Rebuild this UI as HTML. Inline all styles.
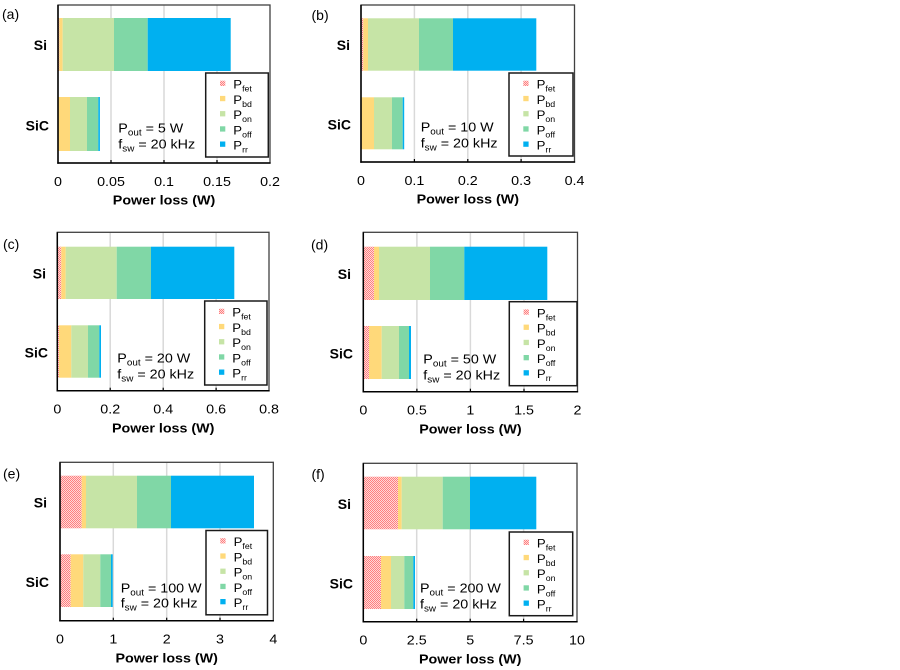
<!DOCTYPE html>
<html>
<head>
<meta charset="utf-8">
<style>
html,body{margin:0;padding:0;background:#fff;}
svg{display:block;}
text{font-family:"Liberation Sans",Arial,sans-serif;fill:#000;}
.tk{font-size:13px;text-anchor:middle;}
.xl{font-size:13px;font-weight:bold;text-anchor:middle;}
.cat{font-size:14px;font-weight:bold;text-anchor:end;}
.pl{font-size:14px;}
.an{font-size:13px;}
.lg{font-size:12px;}
</style>
</head>
<body>
<svg width="900" height="670" viewBox="0 0 900 670" xmlns="http://www.w3.org/2000/svg">
<defs>
<pattern id="h" width="2" height="2" patternUnits="userSpaceOnUse">
<rect x="0" y="0" width="2" height="2" fill="#ffd8d8"/>
<rect x="0" y="0" width="1" height="1" fill="#ff7f7f"/>
<rect x="1" y="1" width="1" height="1" fill="#ff7f7f"/>
</pattern>
</defs>
<rect width="900" height="670" fill="#fff"/>

<!-- ============ PANEL A ============ -->
<g>
<line x1="111" y1="5" x2="111" y2="163" stroke="#d9d9d9" stroke-width="1.5"/>
<line x1="164" y1="5" x2="164" y2="163" stroke="#d9d9d9" stroke-width="1.5"/>
<line x1="217" y1="5" x2="217" y2="163" stroke="#d9d9d9" stroke-width="1.5"/>
<rect x="58" y="18" width="1.3" height="53" fill="url(#h)"/>
<rect x="59.3" y="18" width="3.4" height="53" fill="#ffd97a"/>
<rect x="62.7" y="18" width="51.3" height="53" fill="#c6e4a6"/>
<rect x="114" y="18" width="33.7" height="53" fill="#80d7a6"/>
<rect x="147.7" y="18" width="83" height="53" fill="#00b0f0"/>
<rect x="58" y="97" width="12" height="54" fill="#ffd97a"/>
<rect x="70" y="97" width="17" height="54" fill="#c6e4a6"/>
<rect x="87" y="97" width="11.3" height="54" fill="#80d7a6"/>
<rect x="98.3" y="97" width="1.6" height="54" fill="#00b0f0"/>
<rect x="58" y="5" width="212" height="158" fill="none" stroke="#404040" stroke-width="1.3"/>
<line x1="58" y1="5" x2="58" y2="163.7" stroke="#000" stroke-width="1.5"/>
<line x1="57.3" y1="163" x2="270.6" y2="163" stroke="#000" stroke-width="1.5"/>
<g stroke="#000" stroke-width="1.2"><line x1="111" y1="160" x2="111" y2="163"/><line x1="164" y1="160" x2="164" y2="163"/><line x1="217" y1="160" x2="217" y2="163"/></g>
<text class="cat" x="47" y="50">Si</text>
<text class="cat" x="49" y="130.5">SiC</text>
<text class="pl" x="2" y="19">(a)</text>
<text class="tk" transform="translate(58,186) scale(1.1,1)">0</text>
<text class="tk" transform="translate(111,186) scale(1.1,1)">0.05</text>
<text class="tk" transform="translate(164,186) scale(1.1,1)">0.1</text>
<text class="tk" transform="translate(217,186) scale(1.1,1)">0.15</text>
<text class="tk" transform="translate(270,186) scale(1.1,1)">0.2</text>
<text class="xl" transform="translate(164,204.5) scale(1.1,1)">Power loss (W)</text>
<text class="an" transform="translate(118.3,132.3) scale(1.1,1)">P<tspan font-size="9" dy="3">out</tspan><tspan dy="-3"> = 5 W</tspan></text>
<text class="an" transform="translate(118.3,148.3) scale(1.1,1)">f<tspan font-size="9" dy="3">sw</tspan><tspan dy="-3"> = 20 kHz</tspan></text>
<rect x="205.7" y="73" width="62.6" height="84" fill="#fff" stroke="#1a1a1a" stroke-width="1.5"/>
<rect x="220" y="80.7" width="5.3" height="5.3" fill="url(#h)"/>
<rect x="220" y="95.9" width="5.3" height="5.3" fill="#ffd97a"/>
<rect x="220" y="111.1" width="5.3" height="5.3" fill="#c6e4a6"/>
<rect x="220" y="126.3" width="5.3" height="5.3" fill="#80d7a6"/>
<rect x="220" y="141.5" width="5.3" height="5.3" fill="#00b0f0"/>
<text class="lg" transform="translate(233.3,88.7) scale(1.1,1)">P<tspan font-size="8" dy="3">fet</tspan></text>
<text class="lg" transform="translate(233.3,103.9) scale(1.1,1)">P<tspan font-size="8" dy="3">bd</tspan></text>
<text class="lg" transform="translate(233.3,119.1) scale(1.1,1)">P<tspan font-size="8" dy="3">on</tspan></text>
<text class="lg" transform="translate(233.3,134.3) scale(1.1,1)">P<tspan font-size="8" dy="3">off</tspan></text>
<text class="lg" transform="translate(233.3,149.5) scale(1.1,1)">P<tspan font-size="8" dy="3">rr</tspan></text>
</g>

<!-- ============ PANEL B ============ -->
<g>
<line x1="414.4" y1="5" x2="414.4" y2="162" stroke="#d9d9d9" stroke-width="1.5"/>
<line x1="467.8" y1="5" x2="467.8" y2="162" stroke="#d9d9d9" stroke-width="1.5"/>
<line x1="521.1" y1="5" x2="521.1" y2="162" stroke="#d9d9d9" stroke-width="1.5"/>
<rect x="361" y="18.3" width="2.3" height="52.4" fill="url(#h)"/>
<rect x="363.3" y="18.3" width="4.7" height="52.4" fill="#ffd97a"/>
<rect x="368" y="18.3" width="51" height="52.4" fill="#c6e4a6"/>
<rect x="419" y="18.3" width="34" height="52.4" fill="#80d7a6"/>
<rect x="453" y="18.3" width="83.3" height="52.4" fill="#00b0f0"/>
<rect x="361" y="97.3" width="13" height="52" fill="#ffd97a"/>
<rect x="374" y="97.3" width="18" height="52" fill="#c6e4a6"/>
<rect x="392" y="97.3" width="10.7" height="52" fill="#80d7a6"/>
<rect x="402.7" y="97.3" width="1.5" height="52" fill="#00b0f0"/>
<rect x="361" y="5" width="213.5" height="157" fill="none" stroke="#404040" stroke-width="1.3"/>
<line x1="361" y1="5" x2="361" y2="162.7" stroke="#000" stroke-width="1.5"/>
<line x1="360.3" y1="162" x2="575.1" y2="162" stroke="#000" stroke-width="1.5"/>
<g stroke="#000" stroke-width="1.2"><line x1="414.4" y1="159" x2="414.4" y2="162"/><line x1="467.8" y1="159" x2="467.8" y2="162"/><line x1="521.1" y1="159" x2="521.1" y2="162"/></g>
<text class="cat" x="350" y="50">Si</text>
<text class="cat" x="351" y="129.5">SiC</text>
<text class="pl" x="311.5" y="20">(b)</text>
<text class="tk" transform="translate(361,185) scale(1.1,1)">0</text>
<text class="tk" transform="translate(414.4,185) scale(1.1,1)">0.1</text>
<text class="tk" transform="translate(467.8,185) scale(1.1,1)">0.2</text>
<text class="tk" transform="translate(521.1,185) scale(1.1,1)">0.3</text>
<text class="tk" transform="translate(574.5,185) scale(1.1,1)">0.4</text>
<text class="xl" transform="translate(467.8,203.5) scale(1.1,1)">Power loss (W)</text>
<text class="an" transform="translate(420.7,131.7) scale(1.1,1)">P<tspan font-size="9" dy="3">out</tspan><tspan dy="-3"> = 10 W</tspan></text>
<text class="an" transform="translate(420.7,147.7) scale(1.1,1)">f<tspan font-size="9" dy="3">sw</tspan><tspan dy="-3"> = 20 kHz</tspan></text>
<rect x="509" y="73" width="64" height="83" fill="#fff" stroke="#1a1a1a" stroke-width="1.5"/>
<rect x="523.3" y="80.7" width="5.3" height="5.3" fill="url(#h)"/>
<rect x="523.3" y="95.9" width="5.3" height="5.3" fill="#ffd97a"/>
<rect x="523.3" y="111.1" width="5.3" height="5.3" fill="#c6e4a6"/>
<rect x="523.3" y="126.3" width="5.3" height="5.3" fill="#80d7a6"/>
<rect x="523.3" y="141.5" width="5.3" height="5.3" fill="#00b0f0"/>
<text class="lg" transform="translate(536.6,88.7) scale(1.1,1)">P<tspan font-size="8" dy="3">fet</tspan></text>
<text class="lg" transform="translate(536.6,103.9) scale(1.1,1)">P<tspan font-size="8" dy="3">bd</tspan></text>
<text class="lg" transform="translate(536.6,119.1) scale(1.1,1)">P<tspan font-size="8" dy="3">on</tspan></text>
<text class="lg" transform="translate(536.6,134.3) scale(1.1,1)">P<tspan font-size="8" dy="3">off</tspan></text>
<text class="lg" transform="translate(536.6,149.5) scale(1.1,1)">P<tspan font-size="8" dy="3">rr</tspan></text>
</g>

<!-- ============ PANEL C ============ -->
<g>
<line x1="110.2" y1="232.3" x2="110.2" y2="390.7" stroke="#d9d9d9" stroke-width="1.5"/>
<line x1="163.2" y1="232.3" x2="163.2" y2="390.7" stroke="#d9d9d9" stroke-width="1.5"/>
<line x1="216.1" y1="232.3" x2="216.1" y2="390.7" stroke="#d9d9d9" stroke-width="1.5"/>
<rect x="57.3" y="246.7" width="4" height="52.3" fill="url(#h)"/>
<rect x="61.3" y="246.7" width="4.4" height="52.3" fill="#ffd97a"/>
<rect x="65.7" y="246.7" width="51" height="52.3" fill="#c6e4a6"/>
<rect x="116.7" y="246.7" width="34.3" height="52.3" fill="#80d7a6"/>
<rect x="151" y="246.7" width="83.3" height="52.3" fill="#00b0f0"/>
<rect x="57.3" y="325.3" width="1.7" height="52.4" fill="url(#h)"/>
<rect x="59" y="325.3" width="12.3" height="52.4" fill="#ffd97a"/>
<rect x="71.3" y="325.3" width="16.7" height="52.4" fill="#c6e4a6"/>
<rect x="88" y="325.3" width="11.3" height="52.4" fill="#80d7a6"/>
<rect x="99.3" y="325.3" width="1.7" height="52.4" fill="#00b0f0"/>
<rect x="57.3" y="232.3" width="211.7" height="158.4" fill="none" stroke="#404040" stroke-width="1.3"/>
<line x1="57.3" y1="232.3" x2="57.3" y2="391.4" stroke="#000" stroke-width="1.5"/>
<line x1="56.6" y1="390.7" x2="269.6" y2="390.7" stroke="#000" stroke-width="1.5"/>
<g stroke="#000" stroke-width="1.2"><line x1="110.2" y1="387.7" x2="110.2" y2="390.7"/><line x1="163.2" y1="387.7" x2="163.2" y2="390.7"/><line x1="216.1" y1="387.7" x2="216.1" y2="390.7"/></g>
<text class="cat" x="46" y="278.5">Si</text>
<text class="cat" x="48" y="357.5">SiC</text>
<text class="pl" x="3" y="249">(c)</text>
<text class="tk" transform="translate(57.3,413.5) scale(1.1,1)">0</text>
<text class="tk" transform="translate(110.2,413.5) scale(1.1,1)">0.2</text>
<text class="tk" transform="translate(163.2,413.5) scale(1.1,1)">0.4</text>
<text class="tk" transform="translate(216.1,413.5) scale(1.1,1)">0.6</text>
<text class="tk" transform="translate(269,413.5) scale(1.1,1)">0.8</text>
<text class="xl" transform="translate(163.2,432.5) scale(1.1,1)">Power loss (W)</text>
<text class="an" transform="translate(117.3,362.7) scale(1.1,1)">P<tspan font-size="9" dy="3">out</tspan><tspan dy="-3"> = 20 W</tspan></text>
<text class="an" transform="translate(117.3,378.3) scale(1.1,1)">f<tspan font-size="9" dy="3">sw</tspan><tspan dy="-3"> = 20 kHz</tspan></text>
<rect x="204.7" y="301" width="62.3" height="84" fill="#fff" stroke="#1a1a1a" stroke-width="1.5"/>
<rect x="219" y="308.7" width="5.3" height="5.3" fill="url(#h)"/>
<rect x="219" y="323.9" width="5.3" height="5.3" fill="#ffd97a"/>
<rect x="219" y="339.1" width="5.3" height="5.3" fill="#c6e4a6"/>
<rect x="219" y="354.3" width="5.3" height="5.3" fill="#80d7a6"/>
<rect x="219" y="369.5" width="5.3" height="5.3" fill="#00b0f0"/>
<text class="lg" transform="translate(232.3,316.7) scale(1.1,1)">P<tspan font-size="8" dy="3">fet</tspan></text>
<text class="lg" transform="translate(232.3,331.9) scale(1.1,1)">P<tspan font-size="8" dy="3">bd</tspan></text>
<text class="lg" transform="translate(232.3,347.1) scale(1.1,1)">P<tspan font-size="8" dy="3">on</tspan></text>
<text class="lg" transform="translate(232.3,362.3) scale(1.1,1)">P<tspan font-size="8" dy="3">off</tspan></text>
<text class="lg" transform="translate(232.3,377.5) scale(1.1,1)">P<tspan font-size="8" dy="3">rr</tspan></text>
</g>

<!-- ============ PANEL D ============ -->
<g>
<line x1="416.9" y1="232.3" x2="416.9" y2="391.7" stroke="#d9d9d9" stroke-width="1.5"/>
<line x1="470.4" y1="232.3" x2="470.4" y2="391.7" stroke="#d9d9d9" stroke-width="1.5"/>
<line x1="524" y1="232.3" x2="524" y2="391.7" stroke="#d9d9d9" stroke-width="1.5"/>
<rect x="363.3" y="246.7" width="10.7" height="53.3" fill="url(#h)"/>
<rect x="374" y="246.7" width="5" height="53.3" fill="#ffd97a"/>
<rect x="379" y="246.7" width="51" height="53.3" fill="#c6e4a6"/>
<rect x="430" y="246.7" width="34.3" height="53.3" fill="#80d7a6"/>
<rect x="464.3" y="246.7" width="83" height="53.3" fill="#00b0f0"/>
<rect x="363.3" y="326" width="5.7" height="53" fill="url(#h)"/>
<rect x="369" y="326" width="12.7" height="53" fill="#ffd97a"/>
<rect x="381.7" y="326" width="17.3" height="53" fill="#c6e4a6"/>
<rect x="399" y="326" width="10" height="53" fill="#80d7a6"/>
<rect x="409" y="326" width="2" height="53" fill="#00b0f0"/>
<rect x="363.3" y="232.3" width="214.2" height="159.4" fill="none" stroke="#404040" stroke-width="1.3"/>
<line x1="363.3" y1="232.3" x2="363.3" y2="392.4" stroke="#000" stroke-width="1.5"/>
<line x1="362.6" y1="391.7" x2="578.1" y2="391.7" stroke="#000" stroke-width="1.5"/>
<g stroke="#000" stroke-width="1.2"><line x1="416.9" y1="388.7" x2="416.9" y2="391.7"/><line x1="470.4" y1="388.7" x2="470.4" y2="391.7"/><line x1="524" y1="388.7" x2="524" y2="391.7"/></g>
<text class="cat" x="351" y="279">Si</text>
<text class="cat" x="353" y="358.5">SiC</text>
<text class="pl" x="311" y="249.5">(d)</text>
<text class="tk" transform="translate(363.3,414.5) scale(1.1,1)">0</text>
<text class="tk" transform="translate(416.9,414.5) scale(1.1,1)">0.5</text>
<text class="tk" transform="translate(470.4,414.5) scale(1.1,1)">1</text>
<text class="tk" transform="translate(524,414.5) scale(1.1,1)">1.5</text>
<text class="tk" transform="translate(577.5,414.5) scale(1.1,1)">2</text>
<text class="xl" transform="translate(470.4,433.5) scale(1.1,1)">Power loss (W)</text>
<text class="an" transform="translate(423.3,363.3) scale(1.1,1)">P<tspan font-size="9" dy="3">out</tspan><tspan dy="-3"> = 50 W</tspan></text>
<text class="an" transform="translate(423.3,379.3) scale(1.1,1)">f<tspan font-size="9" dy="3">sw</tspan><tspan dy="-3"> = 20 kHz</tspan></text>
<rect x="509.3" y="301.7" width="67.7" height="84" fill="#fff" stroke="#1a1a1a" stroke-width="1.5"/>
<rect x="523.6" y="309.4" width="5.3" height="5.3" fill="url(#h)"/>
<rect x="523.6" y="324.6" width="5.3" height="5.3" fill="#ffd97a"/>
<rect x="523.6" y="339.8" width="5.3" height="5.3" fill="#c6e4a6"/>
<rect x="523.6" y="355" width="5.3" height="5.3" fill="#80d7a6"/>
<rect x="523.6" y="370.2" width="5.3" height="5.3" fill="#00b0f0"/>
<text class="lg" transform="translate(536.9,317.4) scale(1.1,1)">P<tspan font-size="8" dy="3">fet</tspan></text>
<text class="lg" transform="translate(536.9,332.6) scale(1.1,1)">P<tspan font-size="8" dy="3">bd</tspan></text>
<text class="lg" transform="translate(536.9,347.8) scale(1.1,1)">P<tspan font-size="8" dy="3">on</tspan></text>
<text class="lg" transform="translate(536.9,363) scale(1.1,1)">P<tspan font-size="8" dy="3">off</tspan></text>
<text class="lg" transform="translate(536.9,378.2) scale(1.1,1)">P<tspan font-size="8" dy="3">rr</tspan></text>
</g>

<!-- ============ PANEL E ============ -->
<g>
<line x1="113.3" y1="462.3" x2="113.3" y2="620.7" stroke="#d9d9d9" stroke-width="1.5"/>
<line x1="166.7" y1="462.3" x2="166.7" y2="620.7" stroke="#d9d9d9" stroke-width="1.5"/>
<line x1="220" y1="462.3" x2="220" y2="620.7" stroke="#d9d9d9" stroke-width="1.5"/>
<rect x="60" y="475.7" width="21.7" height="52.6" fill="url(#h)"/>
<rect x="81.7" y="475.7" width="4.3" height="52.6" fill="#ffd97a"/>
<rect x="86" y="475.7" width="51" height="52.6" fill="#c6e4a6"/>
<rect x="137" y="475.7" width="34" height="52.6" fill="#80d7a6"/>
<rect x="171" y="475.7" width="83" height="52.6" fill="#00b0f0"/>
<rect x="60" y="554.3" width="10.7" height="52.7" fill="url(#h)"/>
<rect x="70.7" y="554.3" width="12.6" height="52.7" fill="#ffd97a"/>
<rect x="83.3" y="554.3" width="17" height="52.7" fill="#c6e4a6"/>
<rect x="100.3" y="554.3" width="10.7" height="52.7" fill="#80d7a6"/>
<rect x="111" y="554.3" width="1.7" height="52.7" fill="#00b0f0"/>
<rect x="60" y="462.3" width="213.3" height="158.4" fill="none" stroke="#404040" stroke-width="1.3"/>
<line x1="60" y1="462.3" x2="60" y2="621.4" stroke="#000" stroke-width="1.5"/>
<line x1="59.3" y1="620.7" x2="273.9" y2="620.7" stroke="#000" stroke-width="1.5"/>
<g stroke="#000" stroke-width="1.2"><line x1="113.3" y1="617.7" x2="113.3" y2="620.7"/><line x1="166.7" y1="617.7" x2="166.7" y2="620.7"/><line x1="220" y1="617.7" x2="220" y2="620.7"/></g>
<text class="cat" x="47" y="507.5">Si</text>
<text class="cat" x="49" y="587">SiC</text>
<text class="pl" x="3" y="478.5">(e)</text>
<text class="tk" transform="translate(60,643.5) scale(1.1,1)">0</text>
<text class="tk" transform="translate(113.3,643.5) scale(1.1,1)">1</text>
<text class="tk" transform="translate(166.7,643.5) scale(1.1,1)">2</text>
<text class="tk" transform="translate(220,643.5) scale(1.1,1)">3</text>
<text class="tk" transform="translate(273.3,643.5) scale(1.1,1)">4</text>
<text class="xl" transform="translate(166.7,662.5) scale(1.1,1)">Power loss (W)</text>
<text class="an" transform="translate(120.7,592.7) scale(1.1,1)">P<tspan font-size="9" dy="3">out</tspan><tspan dy="-3"> = 100 W</tspan></text>
<text class="an" transform="translate(120.7,607.7) scale(1.1,1)">f<tspan font-size="9" dy="3">sw</tspan><tspan dy="-3"> = 20 kHz</tspan></text>
<rect x="206" y="530.5" width="61.5" height="84.3" fill="#fff" stroke="#1a1a1a" stroke-width="1.5"/>
<rect x="220.3" y="538.2" width="5.3" height="5.3" fill="url(#h)"/>
<rect x="220.3" y="553.4" width="5.3" height="5.3" fill="#ffd97a"/>
<rect x="220.3" y="568.6" width="5.3" height="5.3" fill="#c6e4a6"/>
<rect x="220.3" y="583.8" width="5.3" height="5.3" fill="#80d7a6"/>
<rect x="220.3" y="599" width="5.3" height="5.3" fill="#00b0f0"/>
<text class="lg" transform="translate(233.6,546.2) scale(1.1,1)">P<tspan font-size="8" dy="3">fet</tspan></text>
<text class="lg" transform="translate(233.6,561.4) scale(1.1,1)">P<tspan font-size="8" dy="3">bd</tspan></text>
<text class="lg" transform="translate(233.6,576.6) scale(1.1,1)">P<tspan font-size="8" dy="3">on</tspan></text>
<text class="lg" transform="translate(233.6,591.8) scale(1.1,1)">P<tspan font-size="8" dy="3">off</tspan></text>
<text class="lg" transform="translate(233.6,607) scale(1.1,1)">P<tspan font-size="8" dy="3">rr</tspan></text>
</g>

<!-- ============ PANEL F ============ -->
<g>
<line x1="416.7" y1="463.3" x2="416.7" y2="621.7" stroke="#d9d9d9" stroke-width="1.5"/>
<line x1="470.2" y1="463.3" x2="470.2" y2="621.7" stroke="#d9d9d9" stroke-width="1.5"/>
<line x1="523.6" y1="463.3" x2="523.6" y2="621.7" stroke="#d9d9d9" stroke-width="1.5"/>
<rect x="363.3" y="476.7" width="34.7" height="52.6" fill="url(#h)"/>
<rect x="398" y="476.7" width="3.7" height="52.6" fill="#ffd97a"/>
<rect x="401.7" y="476.7" width="41" height="52.6" fill="#c6e4a6"/>
<rect x="442.7" y="476.7" width="27.3" height="52.6" fill="#80d7a6"/>
<rect x="470" y="476.7" width="66.3" height="52.6" fill="#00b0f0"/>
<rect x="363.3" y="556" width="17.7" height="53" fill="url(#h)"/>
<rect x="381" y="556" width="10" height="53" fill="#ffd97a"/>
<rect x="391" y="556" width="13.3" height="53" fill="#c6e4a6"/>
<rect x="404.3" y="556" width="9" height="53" fill="#80d7a6"/>
<rect x="413.3" y="556" width="1.7" height="53" fill="#00b0f0"/>
<rect x="363.3" y="463.3" width="213.7" height="158.4" fill="none" stroke="#404040" stroke-width="1.3"/>
<line x1="363.3" y1="463.3" x2="363.3" y2="622.4" stroke="#000" stroke-width="1.5"/>
<line x1="362.6" y1="621.7" x2="577.6" y2="621.7" stroke="#000" stroke-width="1.5"/>
<g stroke="#000" stroke-width="1.2"><line x1="416.7" y1="618.7" x2="416.7" y2="621.7"/><line x1="470.2" y1="618.7" x2="470.2" y2="621.7"/><line x1="523.6" y1="618.7" x2="523.6" y2="621.7"/></g>
<text class="cat" x="351" y="509">Si</text>
<text class="cat" x="353" y="588.5">SiC</text>
<text class="pl" x="311.5" y="479">(f)</text>
<text class="tk" transform="translate(363.3,644.5) scale(1.1,1)">0</text>
<text class="tk" transform="translate(416.7,644.5) scale(1.1,1)">2.5</text>
<text class="tk" transform="translate(470.2,644.5) scale(1.1,1)">5</text>
<text class="tk" transform="translate(523.6,644.5) scale(1.1,1)">7.5</text>
<text class="tk" transform="translate(577,644.5) scale(1.1,1)">10</text>
<text class="xl" transform="translate(470.2,663.5) scale(1.1,1)">Power loss (W)</text>
<text class="an" transform="translate(420,592.7) scale(1.1,1)">P<tspan font-size="9" dy="3">out</tspan><tspan dy="-3"> = 200 W</tspan></text>
<text class="an" transform="translate(420,608.3) scale(1.1,1)">f<tspan font-size="9" dy="3">sw</tspan><tspan dy="-3"> = 20 kHz</tspan></text>
<rect x="509.3" y="532" width="63.4" height="83.7" fill="#fff" stroke="#1a1a1a" stroke-width="1.5"/>
<rect x="523.6" y="539.7" width="5.3" height="5.3" fill="url(#h)"/>
<rect x="523.6" y="554.9" width="5.3" height="5.3" fill="#ffd97a"/>
<rect x="523.6" y="570.1" width="5.3" height="5.3" fill="#c6e4a6"/>
<rect x="523.6" y="585.3" width="5.3" height="5.3" fill="#80d7a6"/>
<rect x="523.6" y="600.5" width="5.3" height="5.3" fill="#00b0f0"/>
<text class="lg" transform="translate(536.9,547.7) scale(1.1,1)">P<tspan font-size="8" dy="3">fet</tspan></text>
<text class="lg" transform="translate(536.9,562.9) scale(1.1,1)">P<tspan font-size="8" dy="3">bd</tspan></text>
<text class="lg" transform="translate(536.9,578.1) scale(1.1,1)">P<tspan font-size="8" dy="3">on</tspan></text>
<text class="lg" transform="translate(536.9,593.3) scale(1.1,1)">P<tspan font-size="8" dy="3">off</tspan></text>
<text class="lg" transform="translate(536.9,608.5) scale(1.1,1)">P<tspan font-size="8" dy="3">rr</tspan></text>
</g>
</svg>
</body>
</html>
